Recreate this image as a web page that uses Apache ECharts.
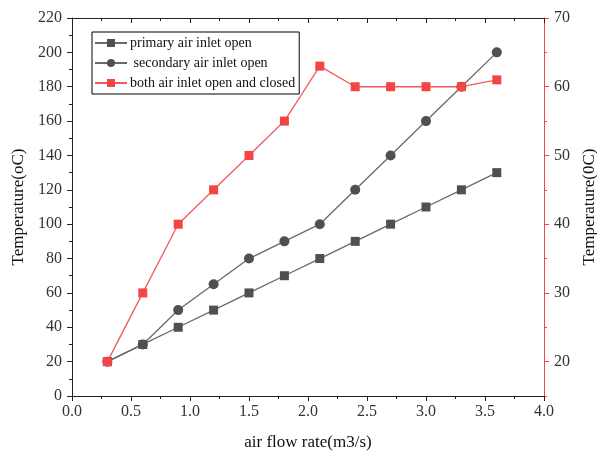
<!DOCTYPE html>
<html>
<head>
<meta charset="utf-8">
<script src="https://cdn.jsdelivr.net/npm/echarts@6/dist/echarts.min.js"></script>
<style>
  html, body { margin: 0; padding: 0; background: #fff; }
  #main { width: 597px; height: 457px; }
</style>
</head>
<body>
<div id="main"></div>
<script>
const flowRate = [0.3, 0.6, 0.9, 1.2, 1.5, 1.8, 2.1, 2.4, 2.7, 3.0, 3.3, 3.6];
const primaryTemp = [20, 30, 40, 50, 60, 70, 80, 90, 100, 110, 120, 130];
const secondaryTemp = [20, 30, 50, 65, 80, 90, 100, 120, 140, 160, 180, 200];
const bothTemp = [20, 30, 40, 45, 50, 55, 63, 60, 60, 60, 60, 61];
const rightTicks = [20, 30, 40, 50, 60, 70];

const dom = document.getElementById('main');
const myChart = echarts.init(dom);

const font = 'Liberation Serif, Times New Roman, serif';
const dark = '#505050';
const red = '#f44444';

function pairs(ys) {
  return flowRate.map((x, i) => [x, ys[i]]);
}

const labelStyle = { fontFamily: font, fontSize: 16, color: '#333' };
const titleStyle = { fontFamily: font, fontSize: 17, color: '#111' };

const options = {
  animation: false,
  textStyle: { fontFamily: font },
  grid: { left: 72, right: 53, top: 18, bottom: 61, containLabel: false, outerBoundsMode: 'none' },
  legend: {
    orient: 'vertical',
    left: 92,
    top: 32,
    padding: [4, 4, 4, 2],
    itemWidth: 32,
    itemHeight: 10,
    itemGap: 6,
    borderColor: '#000',
    borderWidth: 1,
    textStyle: { fontFamily: font, fontSize: 14, color: '#111', padding: [0, 0, 0, -2] },
    data: ['primary air inlet open', ' secondary air inlet open', 'both air inlet open and closed'],
  },
  xAxis: [
    {
      type: 'value',
      min: 0,
      max: 4,
      interval: 0.5,
      name: 'air flow rate(m3/s)',
      nameLocation: 'middle',
      nameGap: 38,
      nameTextStyle: titleStyle,
      axisLine: { show: true, onZero: false, lineStyle: { color: '#222', width: 1 } },
      axisTick: { show: true, inside: false, length: 5, lineStyle: { color: '#222' } },
      minorTick: { show: true, splitNumber: 2, length: 3, lineStyle: { color: '#222' } },
      axisLabel: {
        ...labelStyle,
        margin: 8,
        formatter: (v) => v.toFixed(1),
      },
      splitLine: { show: false },
    },
    {
      type: 'value',
      position: 'top',
      min: 0,
      max: 4,
      interval: 0.5,
      axisLine: { show: true, onZero: false, lineStyle: { color: '#222', width: 1 } },
      axisTick: { show: true, inside: true, length: 5, lineStyle: { color: '#222' } },
      minorTick: { show: true, splitNumber: 2, length: 3, lineStyle: { color: '#222' } },
      axisLabel: { show: false },
      splitLine: { show: false },
    },
  ],
  yAxis: [
    {
      type: 'value',
      min: 0,
      max: 220,
      interval: 20,
      name: 'Temperature(oC)',
      nameLocation: 'middle',
      nameGap: 40,
      nameTextStyle: titleStyle,
      axisLine: { show: true, onZero: false, lineStyle: { color: '#222', width: 1 } },
      axisTick: { show: true, inside: false, length: 5, lineStyle: { color: '#222' } },
      minorTick: { show: true, splitNumber: 2, length: 3, lineStyle: { color: '#222' } },
      axisLabel: { ...labelStyle, margin: 10 },
      splitLine: { show: false },
    },
    {
      type: 'value',
      position: 'right',
      min: 15,
      max: 70,
      name: 'Temperature(0C)',
      nameLocation: 'middle',
      nameGap: 32,
      nameRotate: 90,
      nameTextStyle: titleStyle,
      axisLine: { show: true, onZero: false, lineStyle: { color: red, width: 1 } },
      axisTick: { show: true, inside: false, length: 5, customValues: rightTicks, lineStyle: { color: red } },
      axisLabel: { ...labelStyle, margin: 10, customValues: rightTicks },
      splitLine: { show: false },
    },
    {
      type: 'value',
      position: 'right',
      min: 15,
      max: 70,
      interval: 5,
      axisLine: { show: false, onZero: false },
      axisTick: { show: true, inside: false, length: 3, lineStyle: { color: red } },
      axisLabel: { show: false },
      splitLine: { show: false },
    },
  ],
  series: [
    {
      name: ' secondary air inlet open',
      type: 'line',
      xAxisIndex: 0,
      yAxisIndex: 0,
      data: pairs(secondaryTemp),
      symbol: 'circle',
      symbolSize: 10,
      itemStyle: { color: dark },
      lineStyle: { color: '#6a6a6a', width: 1.3 },
    },
    {
      name: 'primary air inlet open',
      type: 'line',
      xAxisIndex: 0,
      yAxisIndex: 0,
      data: pairs(primaryTemp),
      symbol: 'rect',
      symbolSize: 9,
      itemStyle: { color: dark },
      lineStyle: { color: '#6a6a6a', width: 1.3 },
    },
    {
      name: 'both air inlet open and closed',
      type: 'line',
      xAxisIndex: 0,
      yAxisIndex: 1,
      data: pairs(bothTemp),
      symbol: 'rect',
      symbolSize: 9,
      itemStyle: { color: red },
      lineStyle: { color: '#f35a5a', width: 1.3 },
    },
  ],
};

myChart.setOption(options);
</script>
</body>
</html>
